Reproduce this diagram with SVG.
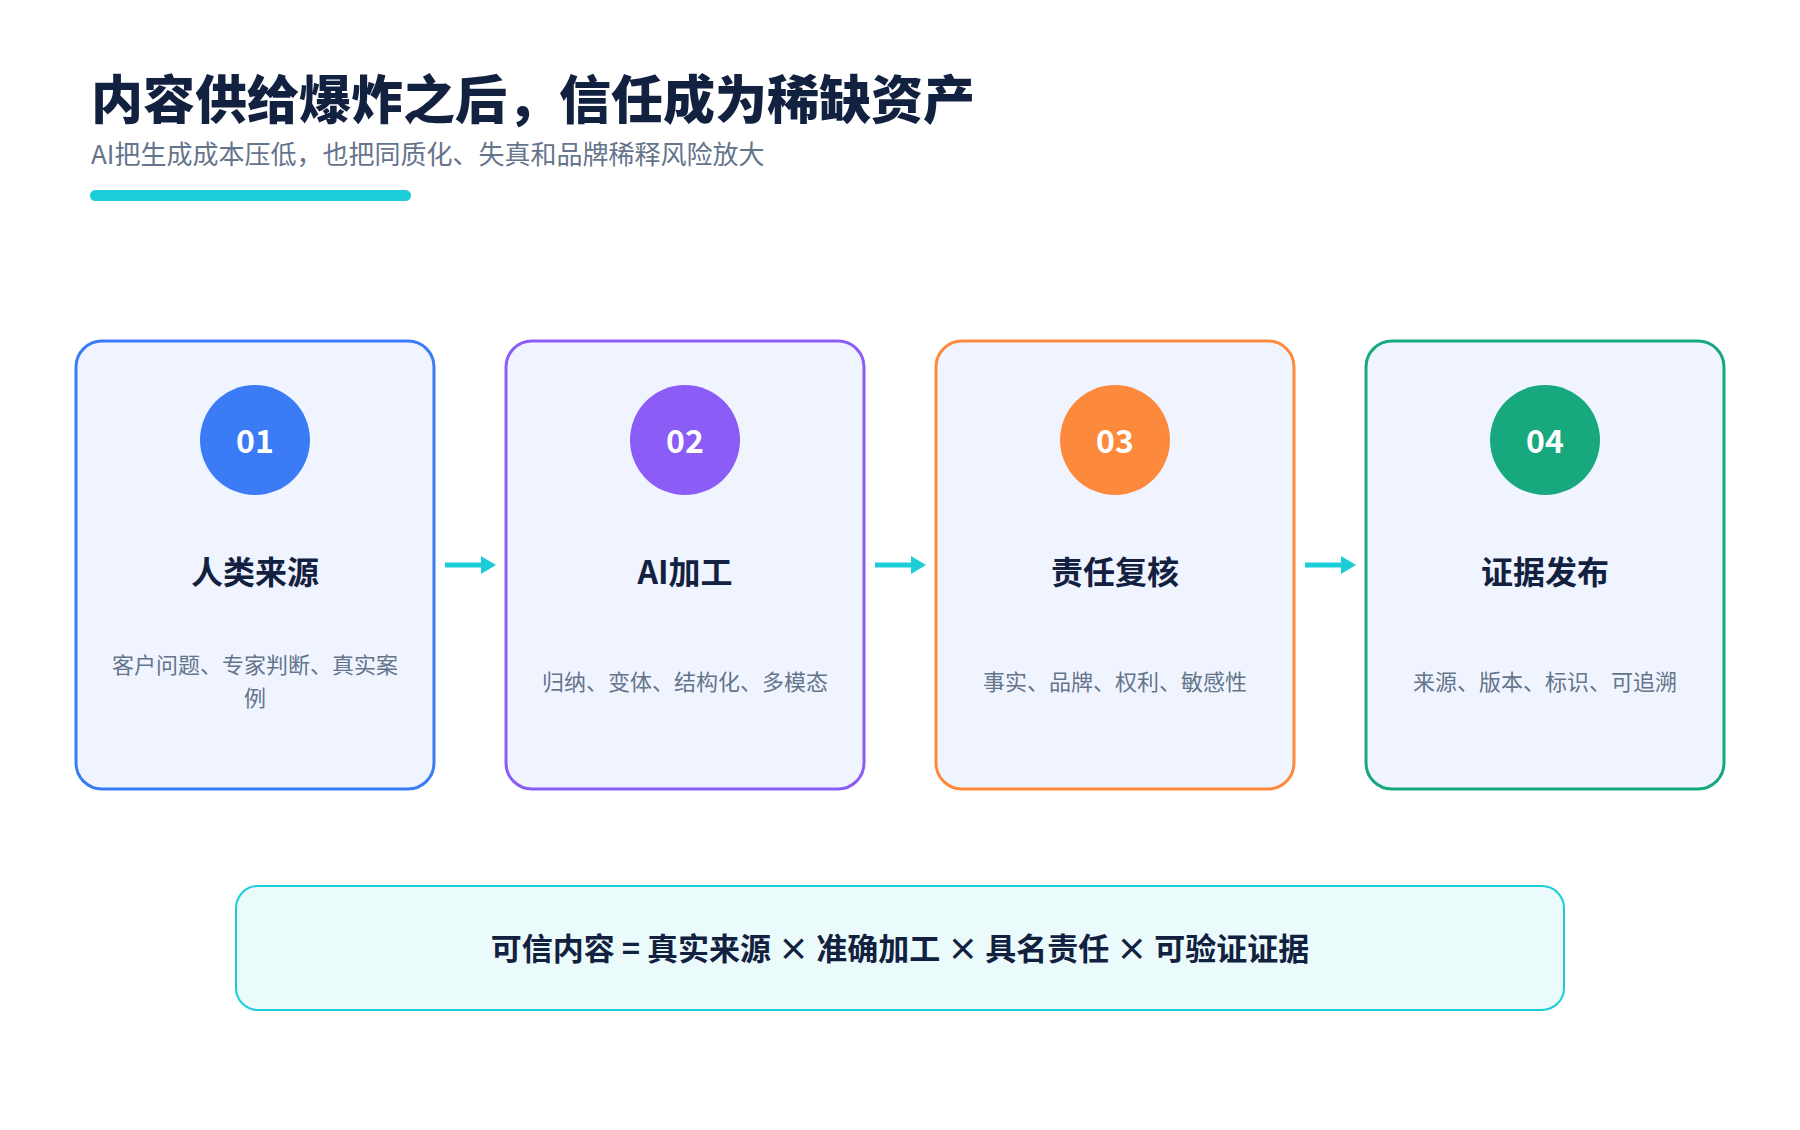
<svg xmlns="http://www.w3.org/2000/svg" width="1800" height="1130" viewBox="0 0 1800 1130">
<style>
text { font-family: "Noto Sans CJK SC", "Noto Sans", sans-serif; }
.title { font-size: 52px; font-weight: 900; fill: #12213f; }
.sub { font-size: 26px; fill: #64748b; }
.card { fill: #f0f4ff; stroke-width: 3; }
.num { font-size: 32px; font-weight: 700; fill: #ffffff; text-anchor: middle; }
.ctitle { font-size: 32px; font-weight: 700; fill: #12213f; text-anchor: middle; }
.desc { font-size: 22px; fill: #64748b; text-anchor: middle; }
.conn line { stroke: #1ccdd9; stroke-width: 5; }
.conn polygon { fill: #1ccdd9; }
.formula { font-size: 31px; font-weight: 700; fill: #12213f; text-anchor: middle; }
</style>
<rect width="1800" height="1130" fill="#ffffff"/>
<g id="header">
<text class="title" x="91" y="119">内容供给爆炸之后，信任成为稀缺资产</text>
<text class="sub" x="91" y="164">AI把生成成本压低，也把同质化、失真和品牌稀释风险放大</text>
<rect x="90" y="190" width="321" height="11" rx="5.5" fill="#1ccdd9"/>
</g>
<g id="node1">
<rect class="card" x="76" y="341" width="358" height="448" rx="26" stroke="#3b7cf6"/>
<circle cx="255" cy="440" r="55" fill="#3b7cf6"/>
<text class="num" x="255" y="453">01</text>
<text class="ctitle" x="255" y="584">人类来源</text>
<text class="desc" x="255" y="673">客户问题、专家判断、真实案</text>
<text class="desc" x="255" y="706">例</text>
</g>
<g id="node2">
<rect class="card" x="506" y="341" width="358" height="448" rx="26" stroke="#8b5cf6"/>
<circle cx="685" cy="440" r="55" fill="#8b5cf6"/>
<text class="num" x="685" y="453">02</text>
<text class="ctitle" x="685" y="584">AI加工</text>
<text class="desc" x="685" y="690">归纳、变体、结构化、多模态</text>
</g>
<g id="node3">
<rect class="card" x="936" y="341" width="358" height="448" rx="26" stroke="#fd8a3c"/>
<circle cx="1115" cy="440" r="55" fill="#fd8a3c"/>
<text class="num" x="1115" y="453">03</text>
<text class="ctitle" x="1115" y="584">责任复核</text>
<text class="desc" x="1115" y="690">事实、品牌、权利、敏感性</text>
</g>
<g id="node4">
<rect class="card" x="1366" y="341" width="358" height="448" rx="26" stroke="#17a87e"/>
<circle cx="1545" cy="440" r="55" fill="#17a87e"/>
<text class="num" x="1545" y="453">04</text>
<text class="ctitle" x="1545" y="584">证据发布</text>
<text class="desc" x="1545" y="690">来源、版本、标识、可追溯</text>
</g>
<g id="connectors" class="conn">
<line x1="445" y1="565" x2="484" y2="565"/>
<polygon points="481,556 496,565 481,574"/>
<line x1="875" y1="565" x2="914" y2="565"/>
<polygon points="911,556 926,565 911,574"/>
<line x1="1305" y1="565" x2="1344" y2="565"/>
<polygon points="1341,556 1356,565 1341,574"/>
</g>
<g id="formula">
<rect x="236" y="886" width="1328" height="124" rx="22" fill="#ebfbfb" stroke="#1ccdd9" stroke-width="2"/>
<text class="formula" x="900" y="960">可信内容 = 真实来源 × 准确加工 × 具名责任 × 可验证证据</text>
</g>
</svg>
